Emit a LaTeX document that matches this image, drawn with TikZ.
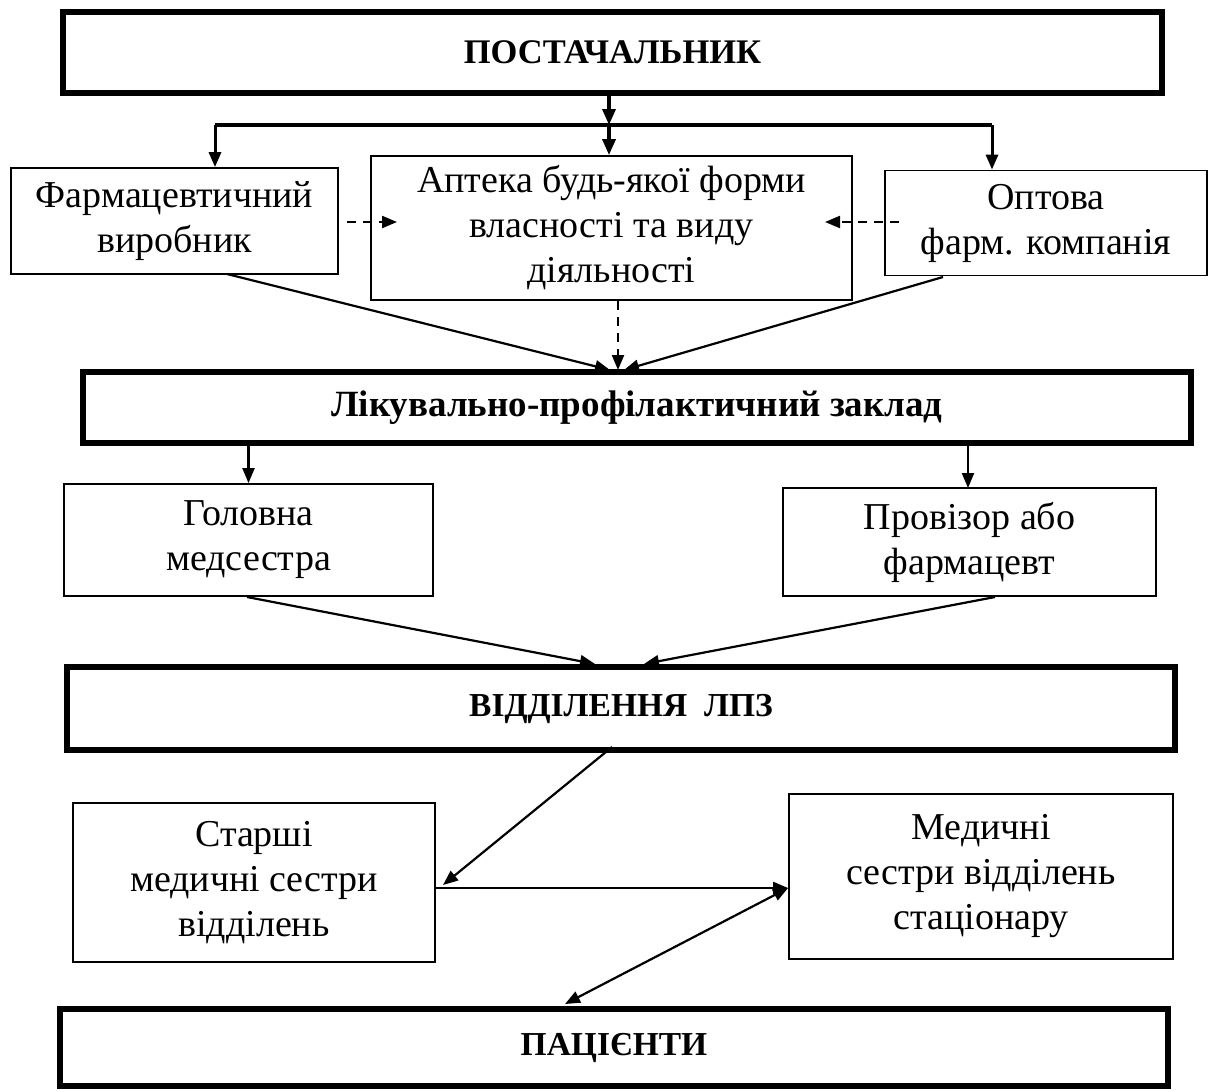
\documentclass[tikz,border=0pt]{standalone}
\usepackage{fontspec}
\setmainfont{Liberation Serif}
\usetikzlibrary{arrows.meta}
\begin{document}
\begin{tikzpicture}[x=1pt,y=-1pt,
  thinbox/.style={draw,line width=1.8pt,inner sep=0pt,align=center,font=\fontsize{38}{45}\selectfont},
  thickbox/.style={draw,line width=5.5pt,inner sep=0pt,align=center,font=\fontsize{33.5}{38}\selectfont\bfseries},
  arr/.style={line width=2.2pt,-{Triangle[length=15pt,width=12pt]}},
  darr/.style={line width=2.2pt,{Triangle[length=15pt,width=12pt]}-{Triangle[length=15pt,width=12pt]}},
  dasharr/.style={line width=2.2pt,dash pattern=on 9pt off 7pt,-{Triangle[length=15pt,width=12pt]}},
  heavyarr/.style={line width=3.5pt,-{Triangle[length=16pt,width=13pt]}},
  sidearr/.style={line width=3pt,-{Triangle[length=15pt,width=12pt]}},
  barline/.style={line width=4pt}]
\useasboundingbox (0,0) rectangle (1210,1090);
% boxes
\node[thickbox,font=\fontsize{34.5}{40}\selectfont\bfseries,minimum width=1099pt,minimum height=81pt] (top) at (612.5,52.5) {ПОСТАЧАЛЬНИК};
\node[thinbox,minimum width=327pt,minimum height=106pt] (farm) at (174.5,221) {Фармацевтичний\\виробник};
\node[thinbox,minimum width=481pt,minimum height=144pt] (apt) at (611.5,228) {Аптека будь-якої форми\\власності та виду\\діяльності};
\node[thinbox,minimum width=322pt,minimum height=105pt] (opt) at (1046,223) {Оптова\\фарм. компанія};
\node[thickbox,font=\fontsize{37}{42}\selectfont\bfseries,minimum width=1108pt,minimum height=71pt] (lpz) at (637,407.5) {Лікувально-профілактичний заклад};
\node[thinbox,minimum width=369pt,minimum height=112pt] (gol) at (248.5,540) {Головна\\медсестра};
\node[thinbox,minimum width=373pt,minimum height=108pt] (prov) at (969.5,542) {Провізор або\\фармацевт};
\node[thickbox,minimum width=1108pt,minimum height=83pt] (vid) at (621,708.5) {ВІДДІЛЕННЯ\ \ ЛПЗ};
\node[thinbox,minimum width=362pt,minimum height=159pt] (star) at (254,882.5) {Старші\\медичні сестри\\відділень};
\node[thinbox,minimum width=384pt,minimum height=165pt] (med) at (981,876.5) {Медичні\\сестри відділень\\стаціонару};
\node[thickbox,minimum width=1108pt,minimum height=77pt] (pac) at (614,1047.5) {ПАЦІЄНТИ};
% distribution bar
\coordinate (barL) at (215,125);
\coordinate (barM) at (609,125);
\coordinate (barR) at (992,125);
\draw[barline] (barL) -- (barR);
\draw[heavyarr] (top.south -| barM) -- (barM);
\draw[heavyarr] (barM) -- (barM |- apt.north);
\draw[sidearr] (barL) -- (barL |- farm.north);
\draw[sidearr] (barR) -- (barR |- opt.north);
% dashed arrows
\coordinate (dL1) at (347,222);
\coordinate (dL2) at (397,222);
\coordinate (dR1) at (899,222);
\coordinate (dR2) at (825,222);
\draw[dasharr] (dL1) -- (dL2);
\draw[dasharr] (dR1) -- (dR2);
\coordinate (dM) at (618,370);
\draw[dasharr] (apt.south -| dM) -- (dM);
% converging to LPZ
\coordinate (fS) at (227,274);
\coordinate (oS) at (943,277);
\coordinate (cL) at (610,370);
\coordinate (cR) at (624,370);
\draw[arr] (fS) -- (cL);
\draw[arr] (oS) -- (cR);
% LPZ down
\draw[arr] (lpz.south -| gol.north) -- (gol.north);
\coordinate (pT) at (968,488);
\draw[arr] (lpz.south -| pT) -- (pT);
% to VID
\coordinate (gS) at (247,597);
\coordinate (pS) at (995,597);
\coordinate (vL) at (595,664);
\coordinate (vR) at (644,664);
\draw[arr] (gS) -- (vL);
\draw[arr] (pS) -- (vR);
% bottom part
\coordinate (vB) at (612,747);
\coordinate (sE) at (443,885);
\draw[arr] (vB) -- (sE);
\coordinate (hy) at (0,888);
\draw[arr] (star.east |- hy) -- (med.west |- hy);
\coordinate (pT2) at (565,1004);
\draw[darr] (pT2) -- (med.west |- hy);
\end{tikzpicture}
\end{document}
